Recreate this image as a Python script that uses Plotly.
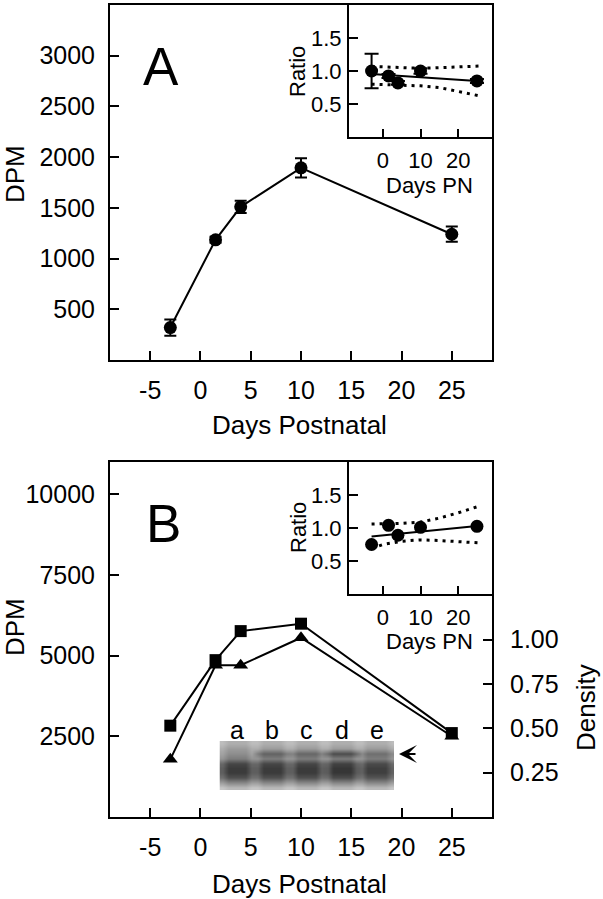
import plotly.graph_objects as go

W, H = 603, 899
FONT = "Liberation Sans, Arial, sans-serif"

# ---------------- data ----------------
days = [-3, 1.5, 4, 10, 25]
x_ticks = [-5, 0, 5, 10, 15, 20, 25]
x_tick_text = ["-5", "0", "5", "10", "15", "20", "25"]

# Panel A
dpm_a = [320, 1185, 1510, 1895, 1240]
dpm_a_err = [80, 30, 60, 95, 75]
dpm_a_ticks = [500, 1000, 1500, 2000, 2500, 3000]

ratio_a = [1.0, 0.925, 0.82, 1.0, 0.85]
ratio_a_err = [0.26, 0.03, 0.03, 0.04, 0.03]
fit_x = [-3, 25]
fit_a = [0.955, 0.85]
band_x = [-3, 0, 5, 10, 15, 20, 25.5]
band_a_upper = [1.07, 1.065, 1.05, 1.04, 1.05, 1.06, 1.075]
band_a_lower = [0.80, 0.795, 0.79, 0.775, 0.75, 0.69, 0.625]

# Panel B
dpm_b = [2830, 4860, 5760, 5990, 2600]
density_b = [0.325, 0.855, 0.855, 1.01, 0.455]
dpm_b_ticks = [2500, 5000, 7500, 10000]
dpm_b_tick_text = ["2500", "5000", "7500", "10000"]
density_ticks = [0.25, 0.50, 0.75, 1.00]

ratio_b = [0.75, 1.04, 0.89, 1.01, 1.025]
fit_b = [0.87, 1.03]
band_b_upper = [1.06, 1.06, 1.07, 1.09, 1.15, 1.23, 1.33]
band_b_lower = [0.69, 0.75, 0.80, 0.82, 0.81, 0.79, 0.775]

inset_x_ticks = [0, 10, 20]
ratio_ticks = [0.5, 1.0, 1.5]

# Gel (western blot) lanes
lanes = ["a", "b", "c", "d", "e"]
gel_background = 0.42
gel_upper_band = [0.52, 0.72, 0.70, 0.82, 0.66]
gel_lower_band = [0.90, 0.90, 0.90, 0.92, 0.88]

# ---------------- helpers ----------------
def px(x):
    return x / W

def py(y):
    return 1 - y / H

# gel image matrix (rows top -> bottom, columns across lanes)
z = []
for r in range(10):
    row = []
    for li in range(len(lanes)):
        up = gel_upper_band[li]
        lo = gel_lower_band[li]
        col_vals = [gel_background - 0.05, gel_background + 0.04, up, 0.60, lo - 0.05,
                    lo, lo, lo - 0.10, 0.55, 0.32]
        v = col_vals[r]
        for c in range(6):
            edge = 0.82 if c in (0, 5) else 1.0
            row.append(v * edge)
    z.append(row)

fig = go.Figure()

blk = "black"
# ---- Panel A main
fig.add_trace(go.Scatter(
    x=days, y=dpm_a, mode="lines+markers", xaxis="x", yaxis="y",
    line=dict(color=blk, width=2), marker=dict(symbol="circle", size=13, color=blk),
    error_y=dict(type="data", array=dpm_a_err, color=blk, thickness=2, width=6)))

# ---- Panel A inset
fig.add_trace(go.Scatter(x=band_x, y=band_a_upper, mode="lines", xaxis="x2", yaxis="y2",
                         line=dict(color=blk, width=3, dash="3px,5px")))
fig.add_trace(go.Scatter(x=band_x, y=band_a_lower, mode="lines", xaxis="x2", yaxis="y2",
                         line=dict(color=blk, width=3, dash="3px,5px")))
fig.add_trace(go.Scatter(x=fit_x, y=fit_a, mode="lines", xaxis="x2", yaxis="y2",
                         line=dict(color=blk, width=2)))
fig.add_trace(go.Scatter(
    x=days, y=ratio_a, mode="markers", xaxis="x2", yaxis="y2",
    marker=dict(symbol="circle", size=13, color=blk),
    error_y=dict(type="data", array=ratio_a_err, color=blk, thickness=2, width=7)))

# ---- Panel B main
fig.add_trace(go.Scatter(
    x=days, y=dpm_b, mode="lines+markers", xaxis="x3", yaxis="y3",
    line=dict(color=blk, width=2), marker=dict(symbol="square", size=12, color=blk)))
fig.add_trace(go.Scatter(
    x=days, y=density_b, mode="lines+markers", xaxis="x3", yaxis="y4",
    line=dict(color=blk, width=2), marker=dict(symbol="triangle-up", size=13, color=blk)))

# ---- Panel B inset
fig.add_trace(go.Scatter(x=band_x, y=band_b_upper, mode="lines", xaxis="x5", yaxis="y5",
                         line=dict(color=blk, width=3, dash="3px,5px")))
fig.add_trace(go.Scatter(x=band_x, y=band_b_lower, mode="lines", xaxis="x5", yaxis="y5",
                         line=dict(color=blk, width=3, dash="3px,5px")))
fig.add_trace(go.Scatter(x=fit_x, y=fit_b, mode="lines", xaxis="x5", yaxis="y5",
                         line=dict(color=blk, width=2)))
fig.add_trace(go.Scatter(x=days, y=ratio_b, mode="markers", xaxis="x5", yaxis="y5",
                         marker=dict(symbol="circle", size=13, color=blk)))

# ---- Gel
fig.add_trace(go.Heatmap(z=z, xaxis="x6", yaxis="y6", zmin=0, zmax=1, zsmooth="best",
                         showscale=False, hoverinfo="skip",
                         colorscale=[[0, "#ffffff"], [1, "#252525"]]))

# ---------------- axes ----------------
tf_main = dict(family=FONT, size=25, color=blk)
tf_inset = dict(family=FONT, size=22, color=blk)

def main_x(domain_anchor):
    return dict(domain=[px(110), px(492)], range=[-9, 29], tickvals=x_ticks,
                ticktext=x_tick_text,
                ticks="inside", ticklen=9, tickwidth=2, tickcolor=blk,
                showline=True, linewidth=2, linecolor=blk, mirror=True,
                showgrid=False, zeroline=False, tickfont=tf_main,
                ticklabelstandoff=7, anchor=domain_anchor, fixedrange=True)

def main_y(domain, rng, tv, tt, anchor):
    return dict(domain=domain, range=rng, tickvals=tv, ticktext=tt,
                ticks="inside", ticklen=9, tickwidth=2, tickcolor=blk,
                showline=True, linewidth=2, linecolor=blk, mirror=True,
                showgrid=False, zeroline=False, tickfont=tf_main,
                ticklabelstandoff=8, anchor=anchor, fixedrange=True)

def inset_x(domain_anchor):
    return dict(domain=[px(349), px(492)], range=[-9, 29], tickvals=inset_x_ticks,
                ticks="inside", ticklen=8, tickwidth=2, tickcolor=blk,
                showline=True, linewidth=2, linecolor=blk, mirror=True,
                showgrid=False, zeroline=False, tickfont=tf_inset,
                ticklabelstandoff=3, anchor=domain_anchor, fixedrange=True)

def inset_y(domain, anchor):
    return dict(domain=domain, range=[0, 2], tickvals=ratio_ticks, tickformat=".1f",
                ticks="inside", ticklen=9, tickwidth=2, tickcolor=blk,
                showline=True, linewidth=2, linecolor=blk, mirror=True,
                showgrid=False, zeroline=False, tickfont=tf_inset,
                ticklabelstandoff=1, anchor=anchor, fixedrange=True)

layout = dict(
    width=W, height=H, margin=dict(l=0, r=0, t=0, b=0),
    paper_bgcolor="white", plot_bgcolor="white", showlegend=False,
    font=dict(family=FONT, color=blk),
    xaxis=main_x("y"),
    yaxis=main_y([py(360), py(5)], [0, 3500], dpm_a_ticks,
                 [str(v) for v in dpm_a_ticks], "x"),
    xaxis2=inset_x("y2"),
    yaxis2=inset_y([py(137), py(5)], "x2"),
    xaxis3=main_x("y3"),
    yaxis3=main_y([py(817), py(462)], [0, 11000], dpm_b_ticks, dpm_b_tick_text, "x3"),
    yaxis4=dict(overlaying="y3", side="right", anchor="x3", range=[0, 2],
                tickvals=density_ticks, tickformat=".2f",
                ticks="inside", ticklen=9, tickwidth=2, tickcolor=blk,
                showline=False, showgrid=False, zeroline=False, tickfont=tf_main,
                ticklabelstandoff=17, fixedrange=True),
    xaxis5=inset_x("y5"),
    yaxis5=inset_y([py(594), py(462)], "x5"),
    xaxis6=dict(domain=[px(219.5), px(394)], anchor="y6", visible=False,
                range=[-0.5, len(z[0]) - 0.5], fixedrange=True),
    yaxis6=dict(domain=[py(790), py(741)], anchor="x6", visible=False,
                range=[len(z) - 0.5, -0.5], fixedrange=True),
)
fig.update_layout(**layout)

# ---------------- text annotations ----------------
ann = []
def text(x, y, s, size, angle=0):
    ann.append(dict(x=px(x), y=py(y), xref="paper", yref="paper", text=s,
                    showarrow=False, xanchor="center", yanchor="middle",
                    textangle=angle, font=dict(family=FONT, size=size, color=blk)))

text(161, 66, "A", 53)
text(163, 523, "B", 53)
text(15, 174, "DPM", 26, -90)
text(15, 627, "DPM", 26, -90)
text(299, 425, "Days Postnatal", 26)
text(299, 884, "Days Postnatal", 26)
text(586, 708, "Density", 26, -90)
text(298, 72, "Ratio", 22, -90)
text(298, 528, "Ratio", 22, -90)
text(429, 185, "Days PN", 22)
text(429, 641, "Days PN", 22)

# lane labels above the gel
for i, lab in enumerate(lanes):
    ann.append(dict(x=i * 6 + 2.5, y=py(730), xref="x6", yref="paper", text=lab,
                    showarrow=False, xanchor="center", yanchor="middle",
                    font=dict(family=FONT, size=25, color=blk)))

# arrow marking the band
ann.append(dict(x=px(399), y=py(754), xref="paper", yref="paper", text="",
                showarrow=True, ax=18, ay=0, arrowhead=3, arrowsize=1.5,
                arrowwidth=2, arrowcolor=blk))

fig.update_layout(annotations=ann)

fig.write_html("out.html", config={"displayModeBar": False},
               post_script="document.body.style.margin='0';document.body.style.padding='0';")
